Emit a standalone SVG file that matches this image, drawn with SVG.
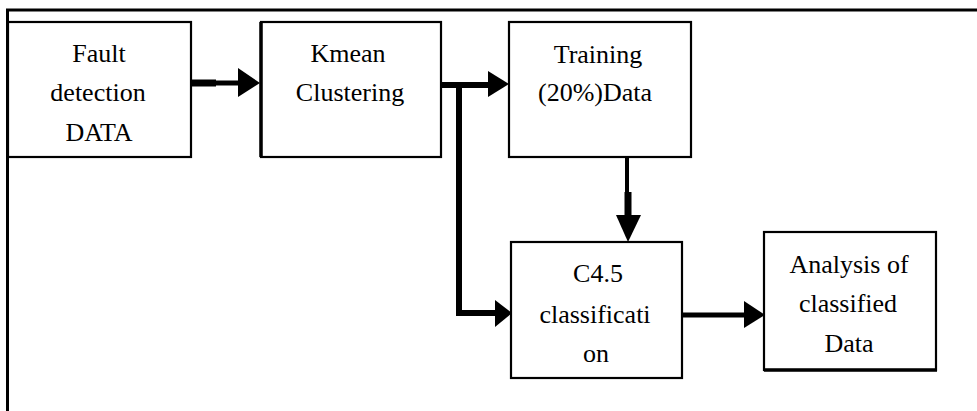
<svg xmlns="http://www.w3.org/2000/svg" width="977" height="411" viewBox="0 0 977 411">
<style>
.box{fill:#fff;stroke:#000;stroke-width:2.2}
.t{font-family:"Liberation Serif","Times New Roman",serif;font-size:26px;fill:#000;text-anchor:middle}
.ln{fill:none;stroke:#000;stroke-linecap:butt;stroke-linejoin:miter}
.hd{fill:#000}
</style>
<rect width="977" height="411" fill="#fff"/>
<g id="frame">
<line x1="6" y1="10" x2="977" y2="10" stroke="#000" stroke-width="3"/>
<line x1="7.5" y1="9" x2="7.5" y2="411" stroke="#000" stroke-width="3"/>
</g>
<g id="connectors">
<path class="ln" d="M190,83 H216" stroke-width="7"/>
<path class="ln" d="M215,83 H242" stroke-width="5"/>
<polygon class="hd" points="238,68 260,83 238,97"/>
<path class="ln" d="M441,85 H492" stroke-width="6"/>
<polygon class="hd" points="488,71 509,84 488,97"/>
<path class="ln" d="M459,85 V313 H498" stroke-width="6"/>
<polygon class="hd" points="495,300 512,313 495,327"/>
<path class="ln" d="M627,157 V193" stroke-width="4"/>
<path class="ln" d="M628,192 V218" stroke-width="7"/>
<polygon class="hd" points="616,215 628,242 641,215"/>
<path class="ln" d="M682,315 H747" stroke-width="5"/>
<polygon class="hd" points="744,301 765,315 744,328"/>
</g>
<g id="fault">
<rect class="box" x="8" y="22" width="183" height="135"/>
<text class="t" x="99" y="62">Fault</text>
<text class="t" x="98" y="101">detection</text>
<text class="t" x="99" y="141">DATA</text>
</g>
<g id="kmean">
<rect class="box" x="261" y="22" width="180" height="135"/>
<line x1="261" y1="22" x2="261" y2="157" stroke="#000" stroke-width="3.5"/>
<text class="t" x="348" y="62">Kmean</text>
<text class="t" x="350" y="101">Clustering</text>
</g>
<g id="training">
<rect class="box" x="509" y="22" width="182" height="135"/>
<text class="t" x="598" y="63">Training</text>
<text class="t" x="595" y="101">(20%)Data</text>
</g>
<g id="c45">
<rect class="box" x="511" y="242" width="171" height="136"/>
<text class="t" x="598" y="282">C4.5</text>
<text class="t" x="595" y="323">classificati</text>
<text class="t" x="596" y="362">on</text>
</g>
<g id="analysis">
<rect class="box" x="764" y="232" width="172" height="138"/>
<line x1="764" y1="370" x2="937" y2="370" stroke="#000" stroke-width="3.5"/>
<text class="t" x="849" y="273">Analysis of</text>
<text class="t" x="848" y="312">classified</text>
<text class="t" x="849" y="352">Data</text>
</g>
</svg>
